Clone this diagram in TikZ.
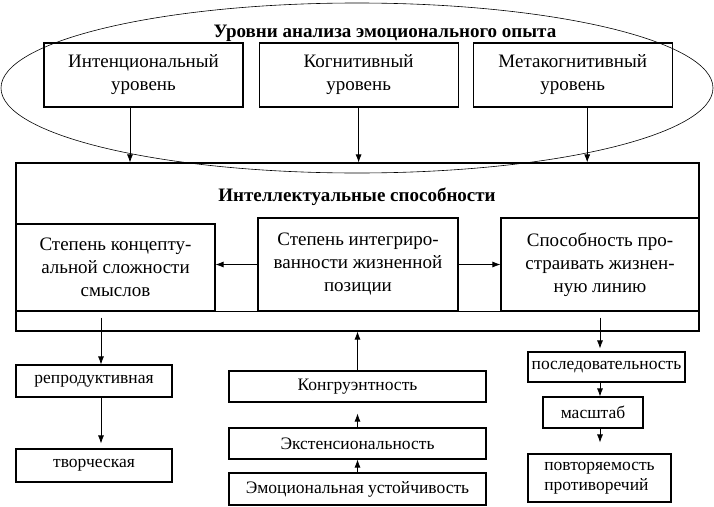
\documentclass[tikz,border=0pt]{standalone}
\usepackage{fontspec}
\setmainfont{Liberation Serif}
\usetikzlibrary{arrows.meta,positioning,shapes}
\tikzset{
  box/.style={draw, line width=1.1pt, inner sep=0pt, align=center},
  tx/.style={font=\fontsize{19}{23}\selectfont},
  sm/.style={font=\fontsize{17.5}{20}\selectfont},
  hd/.style={font=\bfseries\fontsize{19}{23}\selectfont},
  arr/.style={-{Latex[length=8pt,width=6pt]}, line width=0.8pt},
}
\begin{document}
\begin{tikzpicture}[x=1pt,y=-1pt]
  \useasboundingbox (0,0) rectangle (714,506);
  \draw[line width=0.6pt] (357,88) ellipse [x radius=356, y radius=85];
  \node[hd] (T1) at (385,33) {Уровни анализа эмоционального опыта};
  % levels
  \node[box,tx,minimum width=199pt,minimum height=64pt] (L1) at (143.5,75) {Интенциональный\\уровень};
  \node[box,tx,minimum width=199pt,minimum height=64pt,right=15pt of L1] (L2) {Когнитивный\\уровень};
  \node[box,tx,minimum width=199pt,minimum height=64pt,right=14pt of L2] (L3) {Метакогнитивный\\уровень};
  % abilities
  \node[box,minimum width=683pt,minimum height=168pt] (IS) at (357.5,247) {};
  \node[hd] (T2) at (357,197) {Интеллектуальные способности};
  \node[box,tx,minimum width=199pt,minimum height=87pt] (S1) at (115.5,267.5) {Степень концепту-\\альной сложности\\смыслов};
  \node[box,tx,minimum width=200pt,minimum height=93pt] (S2) at (358,264.5) {Степень интегриро-\\ванности жизненной\\позиции};
  \node[box,tx,minimum width=198pt,minimum height=93pt] (S3) at (600,264.5) {Способность про-\\страивать жизнен-\\ную линию};
  \draw[line width=1.1pt] (IS.west |- S1.south) -- (IS.east |- S1.south);
  \coordinate (a1) at ([xshift=-13.5pt]L1.south);
  \coordinate (a3) at ([xshift=14.5pt]L3.south);
  \draw[arr] (a1) -- (a1 |- IS.north);
  \draw[arr] (L2.south) -- (L2.south |- IS.north);
  \draw[arr] (a3) -- (a3 |- IS.north);
  \draw[arr] (S2.west) -- (S1.east |- S2.west);
  \draw[arr] (S2.east) -- (S3.west |- S2.east);
  % lower boxes
  \node[box,sm,minimum width=156pt,minimum height=32pt] (R1) at (94,381) {репродуктивная};
  \node[box,sm,minimum width=156pt,minimum height=33pt] (R2) at (94,465.5) {творческая};
  \node[box,sm,minimum width=257pt,minimum height=31pt] (K1) at (357.5,386.5) {Конгруэнтность};
  \node[box,sm,minimum width=257pt,minimum height=31pt] (K2) at (357.5,443.5) {Экстенсиональность};
  \node[box,sm,minimum width=257pt,minimum height=32pt] (K3) at (357.5,489) {Эмоциональная устойчивость};
  \node[box,sm,minimum width=157pt,minimum height=30pt] (P1) at (606.5,367) {последовательность};
  \node[box,sm,minimum width=100pt,minimum height=31pt] (P2) at (593,412.5) {масштаб};
  \node[box,sm,align=left,minimum width=143pt,minimum height=48pt] (P3) at (599.5,478) {повторяемость\\противоречий};
  \coordinate (b1) at ([xshift=-14.5pt,yshift=-6pt]S1.south);
  \coordinate (b3) at ([yshift=-6pt]S3.south);
  \draw[arr] (b1) -- (b1 |- R1.north);
  \draw[arr,shorten >=5pt] (b1 |- R1.south) -- (b1 |- R2.north);
  \draw[arr] (K1.north) -- (IS.south);
  \draw[arr,shorten >=11pt] (K2.north) -- (K1.south);
  \draw[arr] (K3.north) -- (K2.south);
  \draw[arr,shorten >=3pt] (b3) -- (b3 |- P1.north);
  \draw[arr] (b3 |- P1.south) -- (b3 |- P2.north);
  \draw[arr,shorten >=11pt] (b3 |- P2.south) -- (b3 |- P3.north);
\end{tikzpicture}
\end{document}
